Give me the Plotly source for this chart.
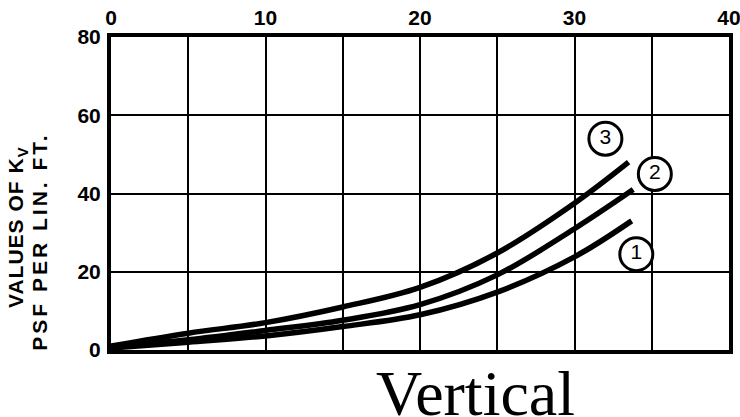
import plotly.graph_objects as go

# Data
x_curve3 = [0, 5, 10, 15, 20, 25, 30, 33.5]
y_curve3 = [1.0, 4.3, 7.0, 11.0, 16.0, 24.8, 37.5, 48.0]
x_curve2 = [0, 5, 10, 15, 20, 25, 30, 33.8]
y_curve2 = [0.8, 2.6, 5.0, 7.6, 11.6, 19.2, 31.0, 41.0]
x_curve1 = [0, 5, 10, 15, 20, 25, 30, 33.7]
y_curve1 = [0.5, 2.0, 3.6, 6.0, 9.0, 14.8, 23.8, 33.0]

curve_labels = ["3", "2", "1"]
label_x = [32.0, 35.2, 34.0]
label_y = [54.0, 45.0, 24.5]

x_ticks = [0, 10, 20, 30, 40]
y_ticks = [0, 20, 40, 60, 80]

fig = go.Figure()
for xs, ys in [(x_curve3, y_curve3), (x_curve2, y_curve2), (x_curve1, y_curve1)]:
    fig.add_trace(go.Scatter(x=xs, y=ys, mode="lines",
                             line=dict(color="black", width=5.5, shape="spline"),
                             showlegend=False, hoverinfo="skip"))

fig.add_trace(go.Scatter(
    x=label_x, y=label_y, mode="markers+text", text=curve_labels,
    textposition="middle center",
    textfont=dict(family="Liberation Sans", size=21, color="black"),
    marker=dict(symbol="circle", size=33, color="white",
                line=dict(color="black", width=3)),
    showlegend=False, hoverinfo="skip"))

tick_font = dict(family="Liberation Sans", size=21, color="black", weight="bold")

fig.update_xaxes(range=[0, 40], side="top", tickvals=x_ticks,
                 ticktext=[str(v) for v in x_ticks],
                 showgrid=True, gridcolor="black", gridwidth=2,
                 minor=dict(dtick=5, showgrid=True, gridcolor="black", gridwidth=2),
                 showline=True, linecolor="black", linewidth=4, mirror=True,
                 zeroline=False, ticks="", ticklabelstandoff=0,
                 ticklabeloverflow="allow",
                 automargin=False, tickfont=tick_font)
fig.update_yaxes(range=[0, 80], tickvals=y_ticks,
                 showgrid=True, gridcolor="black", gridwidth=2,
                 showline=True, linecolor="black", linewidth=4, mirror=True,
                 zeroline=False, ticks="", ticklabelstandoff=2,
                 ticklabeloverflow="allow",
                 automargin=False, tickfont=tick_font)

title_font = dict(family="Liberation Sans", size=21, color="black", weight="bold")
fig.add_annotation(text='<span style="letter-spacing:1px">VALUES OF K<sub>V</sub></span>',
                   xref="paper", yref="paper",
                   x=-0.152, y=0.39, xanchor="center", yanchor="middle",
                   textangle=-90, showarrow=False, font=title_font)
fig.add_annotation(text='<span style="letter-spacing:3px">PSF PER LIN. FT.</span>',
                   xref="paper", yref="paper",
                   x=-0.117, y=0.345, xanchor="center", yanchor="middle",
                   textangle=-90, showarrow=False, font=title_font)
fig.add_annotation(text="Vertical", xref="paper", yref="paper",
                   x=0.589, y=-0.14, xanchor="center", yanchor="middle",
                   showarrow=False,
                   font=dict(family="Liberation Serif", size=64, color="black"))

fig.update_layout(width=740, height=417,
                  margin=dict(l=111, r=11, t=37, b=67),
                  paper_bgcolor="white", plot_bgcolor="white")

fig.write_html("out.html", config={"displayModeBar": False},
               post_script="document.body.style.margin='0px';")
